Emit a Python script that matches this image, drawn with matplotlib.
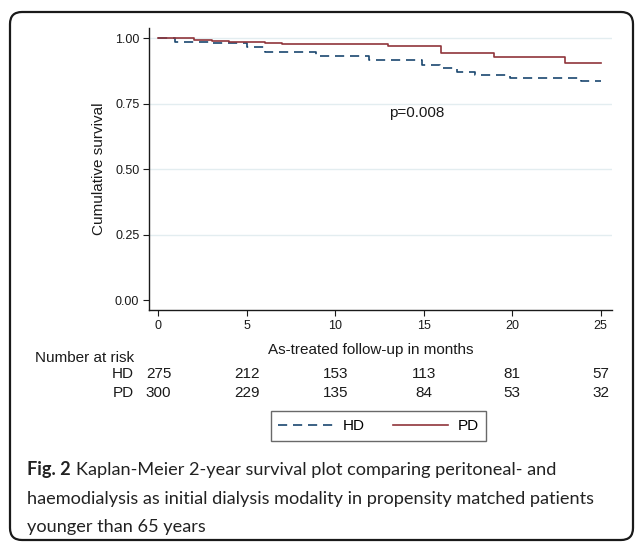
import matplotlib
matplotlib.use("Agg")
import matplotlib.pyplot as plt
import matplotlib.transforms as mtransforms
from matplotlib.patches import FancyBboxPatch
from matplotlib.lines import Line2D

# Kaplan-Meier steps (month, cumulative survival)
hd_months = [0, 0.95, 2.9, 5.0, 6.0, 8.9, 11.9, 14.9, 15.9, 16.9, 17.9, 19.9, 23.9, 25]
hd_surv = [1.0, 0.987, 0.982, 0.966, 0.947, 0.931, 0.918, 0.898, 0.885, 0.870, 0.860, 0.848, 0.836, 0.836]
pd_months = [0, 2.0, 3.0, 4.0, 6.0, 7.0, 13.0, 16.0, 19.0, 23.0, 25]
pd_surv = [1.0, 0.995, 0.991, 0.987, 0.983, 0.979, 0.969, 0.944, 0.927, 0.906, 0.906]

# number at risk table
risk_months = [0, 5, 10, 15, 20, 25]
hd_at_risk = [275, 212, 153, 113, 81, 57]
pd_at_risk = [300, 229, 135, 84, 53, 32]

y_ticks = [0.0, 0.25, 0.5, 0.75, 1.0]
x_ticks = [0, 5, 10, 15, 20, 25]
p_value = "p=0.008"

HD_COLOR = "#1a476f"
PD_COLOR = "#90353b"
GRID_COLOR = "#e3edf0"
INK = "#1a1a1a"

W, H = 636, 545
plt.rcParams["font.family"] = ["Liberation Sans", "DejaVu Sans"]

fig = plt.figure(figsize=(W / 100, H / 100), dpi=100)
fig.patch.set_facecolor("white")

# plot region in pixels: left 149, right 612, top 28, bottom 310
ax = fig.add_axes([149 / W, 1 - 310 / H, (612 - 149) / W, (310 - 28) / H])
ax.set_xlim(-0.537, 25.65)
ax.set_ylim(-0.038, 1.039)

for y in y_ticks[1:]:
    ax.axhline(y, color=GRID_COLOR, lw=1.0, zorder=0)

ax.step(hd_months, hd_surv, where="post", color=HD_COLOR, lw=1.2,
        linestyle=(0, (5.5, 3.5)), label="HD", zorder=3)
ax.step(pd_months, pd_surv, where="post", color=PD_COLOR, lw=1.2,
        label="PD", zorder=4)

ax.text(14.6, 0.715, p_value, ha="center", va="center", fontsize=11, color=INK)

ax.set_xticks(x_ticks)
ax.set_yticks(y_ticks)
ax.set_yticklabels([f"{v:.2f}" for v in y_ticks])
ax.tick_params(axis="both", direction="out", length=4, width=0.8, color=INK,
               labelsize=9, labelcolor=INK, pad=3)
for side in ["top", "right"]:
    ax.spines[side].set_visible(False)
for side in ["left", "bottom"]:
    ax.spines[side].set_linewidth(1.0)
    ax.spines[side].set_color(INK)

ax.set_ylabel("Cumulative survival", fontsize=11, color=INK)
ax.yaxis.set_label_coords(-0.092, 0.5)
ax.set_xlabel("As-treated follow-up in months", fontsize=11, color=INK)
ax.xaxis.set_label_coords(0.48, -0.117)

# number at risk table, columns follow the x axis
trans = mtransforms.blended_transform_factory(ax.transData, fig.transFigure)
fig.text(35 / W, 1 - 358 / H, "Number at risk", ha="left", va="center", fontsize=11, color=INK)
rows = [("HD", hd_at_risk, 374), ("PD", pd_at_risk, 393)]
for name, counts, ypx in rows:
    fig.text(134 / W, 1 - ypx / H, name, ha="right", va="center", fontsize=11, color=INK)
    for m, n in zip(risk_months, counts):
        ax.text(m, 1 - ypx / H, str(n), transform=trans, ha="center", va="center",
                fontsize=11, color=INK, clip_on=False)

handles = [Line2D([], [], color=HD_COLOR, lw=1.2, linestyle=(0, (5.5, 3.5))),
           Line2D([], [], color=PD_COLOR, lw=1.2)]
leg = fig.legend(handles, ["HD", "PD"], loc="center", bbox_to_anchor=(378.5 / W, 1 - 426 / H),
                 ncol=2, fontsize=11, frameon=True, fancybox=False, handlelength=3.6,
                 handletextpad=0.6, columnspacing=1.9, borderpad=0.5)
leg.get_frame().set_edgecolor("#444444")
leg.get_frame().set_linewidth(1.0)

# caption
cap_font = ["Lato", "DejaVu Sans"]
cap_size = 13.1
t1 = fig.text(27 / W, 1 - 470 / H, "Fig. 2", ha="left", va="center", fontsize=cap_size,
              fontweight="bold", family=cap_font, color="#222222")
ax.annotate("Kaplan-Meier 2-year survival plot comparing peritoneal- and", xy=(1, 0.5),
            xycoords=t1, xytext=(4, 0), textcoords="offset points", ha="left", va="center",
            fontsize=cap_size, family=cap_font, color="#222222", annotation_clip=False)
fig.text(27 / W, 1 - 499 / H, "haemodialysis as initial dialysis modality in propensity matched patients",
         ha="left", va="center", fontsize=cap_size, family=cap_font, color="#222222")
fig.text(27 / W, 1 - 527 / H, "younger than 65 years", ha="left", va="center",
         fontsize=cap_size, family=cap_font, color="#222222")

# rounded outer frame, in pixels
frame = FancyBboxPatch((10, H - 540), 623, 528, boxstyle="round,pad=0,rounding_size=12",
                       transform=mtransforms.IdentityTransform(), fill=False,
                       lw=1.6, ec=INK)
fig.add_artist(frame)

fig.savefig("out.png", dpi=100)
